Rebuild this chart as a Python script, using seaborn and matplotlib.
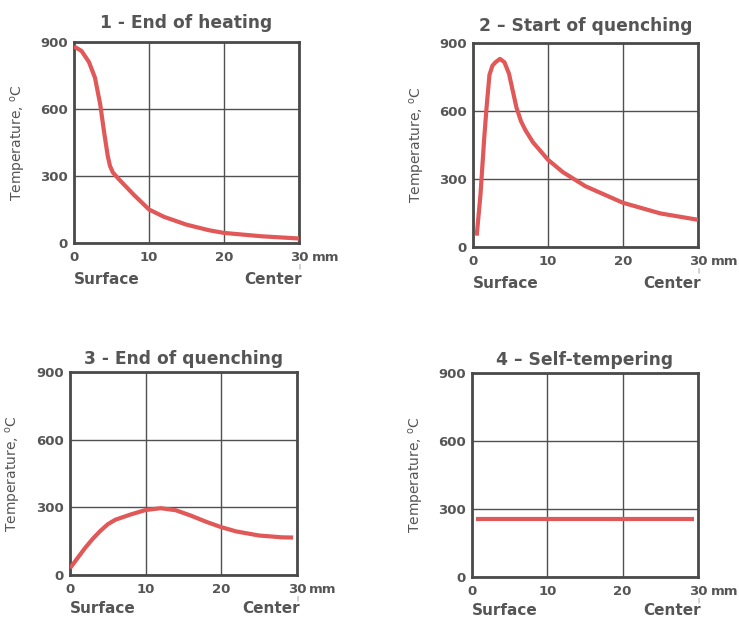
import numpy as np
import pandas as pd
import matplotlib
matplotlib.use("Agg")
import matplotlib.pyplot as plt
import seaborn as sns

# depth from surface, mm -> temperature, C
x1 = [0, 1, 2, 2.8, 3.5, 4, 4.5, 4.8, 5.2, 5.6, 6, 7, 8, 10, 12, 15, 18, 20, 25, 30]
t1 = [880, 860, 810, 740, 620, 500, 390, 345, 315, 300, 285, 250, 215, 150, 117, 82, 57, 45, 30, 20]

x2 = [0.5, 1, 1.5, 1.8, 2.2, 2.6, 3, 3.6, 4.2, 4.8, 5.3, 5.8, 6.4, 7, 8, 10, 12, 15, 20, 25, 30]
t2 = [50, 230, 480, 610, 760, 800, 815, 830, 815, 765, 690, 615, 555, 515, 462, 385, 330, 268, 195, 148, 120]

x3 = [0, 1, 2, 3, 4, 5, 6, 8, 10, 12, 14, 16, 18, 20, 22, 25, 28, 29.5]
t3 = [30, 75, 120, 160, 195, 225, 245, 268, 288, 296, 287, 263, 236, 212, 193, 175, 167, 166]

x4 = [0.5, 29.5]
t4 = [258, 258]

titles = ["1 - End of heating", "2 – Start of quenching", "3 - End of quenching", "4 – Self-tempering"]
xticks = [0, 10, 20, 30]
yticks = [0, 300, 600, 900]

sns.set_theme(style="white")
plt.rcParams["font.family"] = ["DejaVu Sans"]

fig = plt.figure(figsize=(7.39, 6.17), dpi=100)
boxes = [
    [0.1001, 0.6062, 0.3045, 0.3258],
    [0.6400, 0.5997, 0.3045, 0.3306],
    [0.0947, 0.0681, 0.3070, 0.3290],
    [0.6387, 0.0648, 0.3058, 0.3306],
]
title_pads = [10, 9, 6, 6]
bottom_off = [-26, -26, -24, -24]
series = [(x1, t1), (x2, t2), (x3, t3), (x4, t4)]
txt = "#555555"

for box, (xs, ts), title, tp, bo in zip(boxes, series, titles, title_pads, bottom_off):
    ax = fig.add_axes(box)
    df = pd.DataFrame({"x": xs, "t": ts})
    sns.lineplot(data=df, x="x", y="t", ax=ax, color="#e05858", linewidth=3,
                 solid_capstyle="butt", solid_joinstyle="round", zorder=3)
    ax.set_xlim(0, 30)
    ax.set_ylim(0, 900)
    ax.set_xticks(xticks)
    ax.set_yticks(yticks)
    ax.tick_params(axis="x", pad=5.5, length=0, labelsize=9.5, labelcolor=txt)
    ax.tick_params(axis="y", pad=4.5, length=0, labelsize=9.5, labelcolor=txt)
    for lab in ax.get_xticklabels() + ax.get_yticklabels():
        lab.set_fontweight("bold")
    ax.grid(True, color="#505050", linewidth=1.0)
    for sp in ax.spines.values():
        sp.set_color("#4a4a4a")
        sp.set_linewidth(2)
    ax.set_xlabel("")
    ax.set_ylabel("Temperature, $^{\\rm o}$C", color=txt, fontsize=10)
    ax.yaxis.set_label_coords(-0.205, 0.5)
    ax.set_title(title, color=txt, fontsize=12.3, fontweight="bold", pad=tp)
    ax.annotate("mm", xy=(1, 0), xycoords="axes fraction", xytext=(9, -10.5),
                textcoords="offset points", ha="left", va="center",
                fontsize=9.5, color=txt, fontweight="bold")
    ax.annotate("Surface", xy=(0, 0), xycoords="axes fraction", xytext=(0, bo),
                textcoords="offset points", ha="left", va="center",
                fontsize=11, color=txt, fontweight="bold")
    ax.annotate("Center", xy=(1, 0), xycoords="axes fraction", xytext=(2, bo),
                textcoords="offset points", ha="right", va="center",
                fontsize=11, color=txt, fontweight="bold")
    ax.annotate("|", xy=(1, 0), xycoords="axes fraction", xytext=(0, -16.5),
                textcoords="offset points", ha="center", va="center",
                fontsize=4, color=txt)

fig.savefig("out.png", dpi=100)
